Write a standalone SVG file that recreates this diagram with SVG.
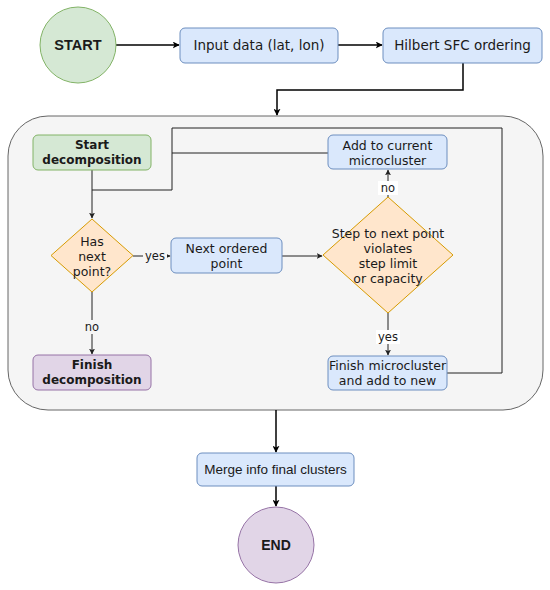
<svg xmlns="http://www.w3.org/2000/svg" width="550" height="590" viewBox="0 0 550 590">
<style>
.blue{fill:#dae8fc;stroke:#6c8ebf;stroke-width:1}
.green{fill:#d5e8d4;stroke:#82b366;stroke-width:1}
.purple{fill:#e1d5e7;stroke:#9673a6;stroke-width:1}
.orange{fill:#ffe6cc;stroke:#d79b00;stroke-width:1}
.t{font-family:"DejaVu Sans",Verdana,sans-serif;font-size:12.5px;fill:#1a1a1a;text-anchor:middle}
.tb{font-family:"DejaVu Sans",Verdana,sans-serif;font-size:12px;font-weight:bold;fill:#1a1a1a;text-anchor:middle}
.top{font-family:"DejaVu Sans",Verdana,sans-serif;font-size:13.5px;fill:#1a1a1a;text-anchor:middle}
.h{font-family:"Liberation Sans",Arial,sans-serif;fill:#1a1a1a;text-anchor:middle}
.lbl{font-family:"DejaVu Sans",Verdana,sans-serif;font-size:11.5px;fill:#1a1a1a;text-anchor:middle}
.thick{fill:none;stroke:#000;stroke-width:1.5;marker-end:url(#ah)}
.thin{fill:none;stroke:#222;stroke-width:1;marker-end:url(#as)}
.line{fill:none;stroke:#222;stroke-width:1}
</style>
<defs>
<marker id="ah" viewBox="0 0 10 10" refX="9" refY="5" markerWidth="7" markerHeight="7" orient="auto" markerUnits="userSpaceOnUse"><path d="M0,0 L10,5 L0,10 L2.5,5 Z" fill="#000"/></marker>
<marker id="as" viewBox="0 0 10 10" refX="9" refY="5" markerWidth="6" markerHeight="6" orient="auto" markerUnits="userSpaceOnUse"><path d="M0,0 L10,5 L0,10 L2.5,5 Z" fill="#222"/></marker>
</defs>
<rect width="550" height="590" fill="#ffffff"/>
<g id="container"><rect x="8" y="116" width="535" height="294" rx="40" fill="#f5f5f5" stroke="#666666" stroke-width="1"/></g>
<g id="connectors">
<line class="thick" x1="116" y1="45" x2="179" y2="45"/>
<line class="thick" x1="338" y1="45" x2="382" y2="45"/>
<polyline class="thick" points="463,63 463,90 277,90 277,115"/>
<line class="thick" x1="276" y1="410" x2="276" y2="452"/>
<line class="thick" x1="276" y1="486" x2="276" y2="506"/>
<line class="thin" x1="92" y1="170" x2="92" y2="218"/>
<polyline class="line" points="447,373 502,373 502,128 172,128 172,190 92,190"/>
<line class="line" x1="328" y1="153" x2="172" y2="153"/>
<line class="thin" x1="133" y1="256" x2="170" y2="256"/>
<line class="thin" x1="92" y1="292" x2="92" y2="354"/>
<line class="thin" x1="282" y1="256" x2="322" y2="256"/>
<line class="thin" x1="388" y1="197" x2="388" y2="170"/>
<line class="thin" x1="388" y1="313" x2="388" y2="355"/>
<rect x="143" y="249" width="24" height="14" fill="#f5f5f5"/>
<text class="lbl" x="155" y="260">yes</text>
<rect x="82" y="320" width="20" height="14" fill="#f5f5f5"/>
<text class="lbl" x="92" y="331">no</text>
<rect x="378" y="181" width="20" height="14" fill="#ffffff"/>
<text class="lbl" x="388" y="192">no</text>
<rect x="376" y="330" width="24" height="14" fill="#ffffff"/>
<text class="lbl" x="388" y="341">yes</text>
</g>
<g id="start"><circle class="green" cx="78" cy="45" r="38"/><text class="h" x="78" y="50" font-size="14.5" font-weight="bold">START</text></g>
<g id="input"><rect class="blue" x="180" y="28" width="158" height="35" rx="5"/><text class="top" x="259" y="50">Input data (lat, lon)</text></g>
<g id="hilbert"><rect class="blue" x="383" y="28" width="159" height="35" rx="5"/><text class="top" x="462.5" y="50">Hilbert SFC ordering</text></g>
<g id="startdecomp"><rect class="green" x="33" y="135" width="118" height="35" rx="5"/><text class="tb" x="92" y="149">Start</text><text class="tb" x="92" y="164">decomposition</text></g>
<g id="hasnext"><polygon class="orange" points="92,219 133,255.5 92,292 51,255.5"/><text class="t" x="92" y="245.5">Has</text><text class="t" x="92" y="260.5">next</text><text class="t" x="92" y="275.5">point?</text></g>
<g id="nextpoint"><rect class="blue" x="171" y="238" width="111" height="35" rx="5"/><text class="t" x="226.5" y="252.5">Next ordered</text><text class="t" x="226.5" y="267.5">point</text></g>
<g id="step"><polygon class="orange" points="388,197 453,255 388,313 323,255"/><text class="t" x="388" y="237.5">Step to next point</text><text class="t" x="388" y="252.5">violates</text><text class="t" x="388" y="267.5">step limit</text><text class="t" x="388" y="282.5">or capacity</text></g>
<g id="addcurrent"><rect class="blue" x="328" y="135" width="119" height="34" rx="5"/><text class="t" x="387.5" y="149.5">Add to current</text><text class="t" x="387.5" y="164.5">microcluster</text></g>
<g id="finishmicro"><rect class="blue" x="328" y="356" width="119" height="34" rx="5"/><text class="t" x="387.5" y="369.5">Finish microcluster</text><text class="t" x="387.5" y="384.5">and add to new</text></g>
<g id="finishdecomp"><rect class="purple" x="33" y="355" width="118" height="35" rx="5"/><text class="tb" x="92" y="369">Finish</text><text class="tb" x="92" y="384">decomposition</text></g>
<g id="merge"><rect class="blue" x="197" y="453" width="157" height="33" rx="5"/><text class="h" x="275.5" y="474" font-size="13.5">Merge info final clusters</text></g>
<g id="end"><circle class="purple" cx="276" cy="545" r="38"/><text class="h" x="276" y="550" font-size="14" font-weight="bold">END</text></g>
</svg>
